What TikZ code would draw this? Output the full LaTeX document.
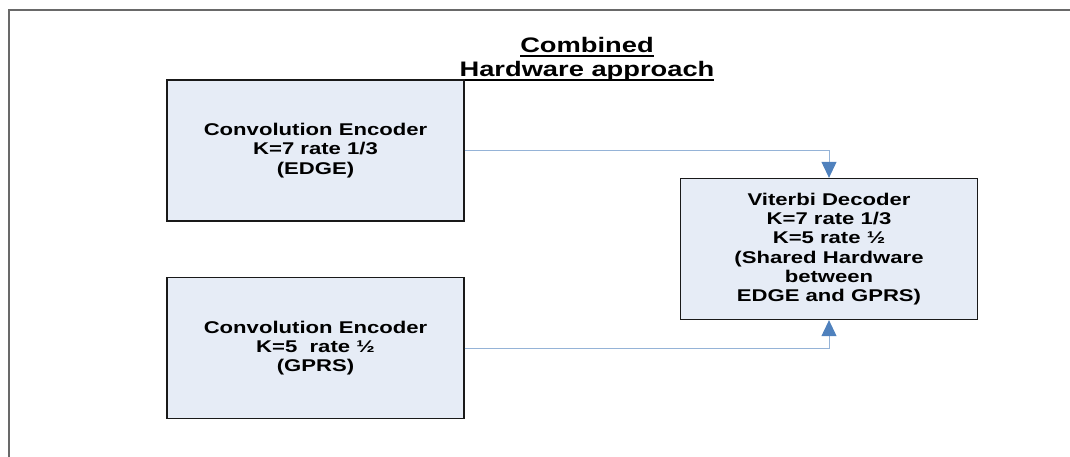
\documentclass[tikz,border=0pt]{standalone}
\usepackage{fontspec}
\setmainfont{Liberation Sans}[FakeStretch=1.3]
\usetikzlibrary{arrows.meta}

\definecolor{boxfill}{RGB}{230,236,246}
\definecolor{linkblue}{RGB}{149,179,215}
\definecolor{tipblue}{RGB}{79,129,189}
\definecolor{framegray}{RGB}{105,105,105}

% underlined heading text with a heavier rule
\newsavebox{\ulbox}
\newcommand{\ulined}[1]{\leavevmode\sbox{\ulbox}{#1}\rlap{\raisebox{-4pt}{\rule{\wd\ulbox}{2pt}}}\usebox{\ulbox}}

\begin{document}
\begin{tikzpicture}[x=1pt,y=-1pt,
  block/.style={draw=black!90,line width=1.3pt,fill=boxfill,
    minimum width=297pt,minimum height=141pt,align=center,
    font=\fontsize{17}{19.3}\selectfont\bfseries},
  heading/.style={anchor=base,font=\fontsize{21}{24}\selectfont\bfseries},
  link/.style={draw=linkblue,line width=1pt,
    -{Triangle[length=16pt,width=15pt,color=tipblue]}}]
\useasboundingbox (0,0) rectangle (1070,457);

% Frame (top and left edge only)
\draw[framegray,line width=2pt] (1070,10) -- (9,10) -- (9,457);

% Heading
\node[heading] (title1) at (587,53) {\ulined{Combined}};
\node[heading] (title2) at (587,77) {\ulined{Hardware approach}};

% Encoders
\node[block] (enc1) at (315.5,150.5) {Convolution Encoder\\K=7 rate 1/3\\(EDGE)};
\node[block] (enc2) at (315.5,348) {Convolution Encoder\\K=5\ \ rate ½\\(GPRS)};

% Decoder
\node[block] (vit) at (829,249) {Viterbi Decoder\\K=7 rate 1/3\\K=5 rate ½\\(Shared Hardware\\between\\EDGE and GPRS)};

% Links
\draw[link] (enc1.east) -| (vit.north);
\draw[link] (enc2.east) -| (vit.south);

\end{tikzpicture}
\end{document}
